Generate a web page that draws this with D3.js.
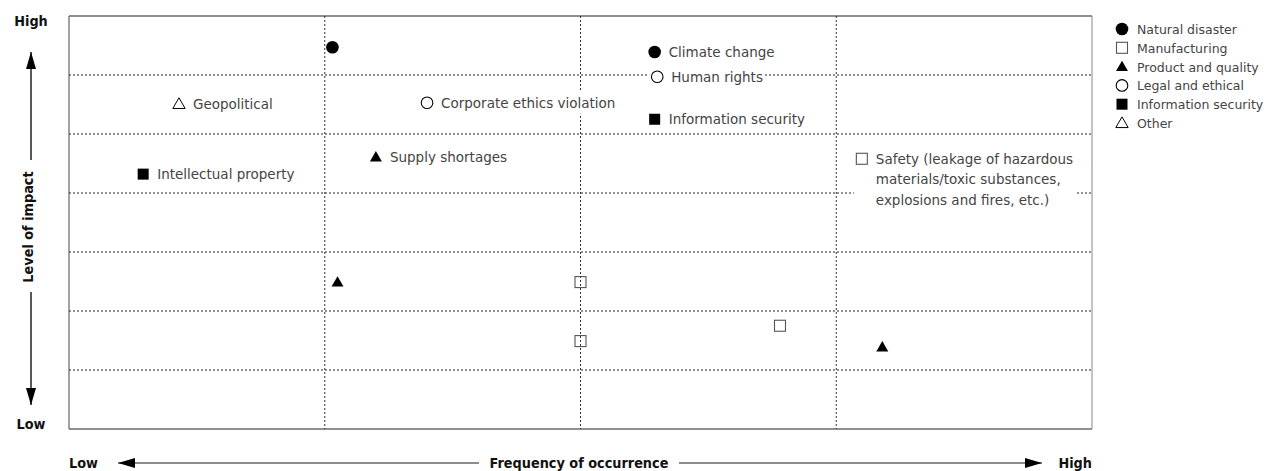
<!DOCTYPE html>
<meta charset="utf-8">
<head>
    <title>Risk map</title>
</head>
<style>
    body { margin: 0; background: #fff; }
    text { font-family: "DejaVu Sans", sans-serif; }
    .lbl { font-size: 13.5px; fill: #444; }
    .leg { font-size: 12.5px; fill: #444; }
    .ax { font-family: "DejaVu Sans Condensed", "DejaVu Sans", sans-serif; font-size: 14.3px; font-weight: bold; fill: #111; }
</style>
<div id="chart"></div>
<script src="https://d3js.org/d3.v7.min.js"></script>
<script>

    // legend categories and their marker kind
    var categories = ["Natural disaster", "Manufacturing", "Product and quality", "Legal and ethical", "Information security", "Other"];
    var shapes = ["circleFilled", "squareOpen", "triangleFilled", "circleOpen", "squareFilled", "triangleOpen"];

    // risks: frequency (0-4 columns), impact (0-7 rows), category index, label
    var riskFreq   = [1.03, 2.29, 2.30, 2.29, 1.40, 0.43, 0.29, 1.20, 3.10, 1.05, 2.00, 2.00, 2.78, 3.18];
    var riskImpact = [6.47, 6.39, 5.97, 5.25, 5.53, 5.51, 4.32, 4.61, 4.58, 2.49, 2.49, 1.49, 1.75, 1.39];
    var riskCat    = [0, 0, 3, 4, 3, 5, 4, 2, 1, 2, 1, 1, 1, 2];
    var riskLabel  = ["", "Climate change", "Human rights", "Information security", "Corporate ethics violation",
                      "Geopolitical", "Intellectual property", "Supply shortages",
                      "Safety (leakage of hazardous|materials/toxic substances,|explosions and fires, etc.)",
                      "", "", "", "", ""];

    var xTicks = [1, 2, 3];
    var yTicks = [1, 2, 3, 4, 5, 6];

    var margin = {top: 16, right: 176, bottom: 42, left: 69},
        width = 1268 - margin.left - margin.right,
        height = 471 - margin.top - margin.bottom;

    var svg = d3.select("#chart")
      .append("svg")
        .attr("width", 1268)
        .attr("height", 471);

    var g = svg.append("g")
        .attr("transform", "translate(" + margin.left + "," + margin.top + ")");

    var x = d3.scaleLinear().domain([0, 4]).range([0, width]);
    var y = d3.scaleLinear().domain([0, 7]).range([height, 0]);

    // grid
    g.selectAll(".vgrid").data(xTicks).enter().append("line")
        .attr("x1", function(d) { return x(d); })
        .attr("x2", function(d) { return x(d); })
        .attr("y1", 0).attr("y2", height)
        .attr("stroke", "#333").attr("stroke-width", 1)
        .attr("stroke-dasharray", "2,2");
    g.selectAll(".hgrid").data(yTicks).enter().append("line")
        .attr("x1", 0).attr("x2", width)
        .attr("y1", function(d) { return y(d); })
        .attr("y2", function(d) { return y(d); })
        .attr("stroke", "#222").attr("stroke-width", 1)
        .attr("stroke-dasharray", "2,2");

    // frame
    g.append("line").attr("x1", 0).attr("x2", width).attr("y1", 0).attr("y2", 0).attr("stroke", "#222").attr("stroke-width", 1.2);
    g.append("line").attr("x1", 0).attr("x2", width).attr("y1", height).attr("y2", height).attr("stroke", "#222").attr("stroke-width", 1.2);
    g.append("line").attr("x1", 0).attr("x2", 0).attr("y1", 0).attr("y2", height).attr("stroke", "#444").attr("stroke-width", 1);
    g.append("line").attr("x1", width).attr("x2", width).attr("y1", 0).attr("y2", height).attr("stroke", "#888").attr("stroke-width", 1);

    function drawMarker(sel, kind, cx, cy) {
        if (kind == "circleFilled" || kind == "circleOpen") {
            sel.append("circle").attr("cx", cx).attr("cy", cy)
                .attr("r", kind == "circleFilled" ? 6.3 : 5.8)
                .attr("fill", kind == "circleFilled" ? "#000" : "none")
                .attr("stroke", "#000").attr("stroke-width", kind == "circleFilled" ? 0 : 1.1);
        } else if (kind == "squareFilled" || kind == "squareOpen") {
            var s = 11;
            sel.append("rect").attr("x", cx - s / 2).attr("y", cy - s / 2)
                .attr("width", s).attr("height", s)
                .attr("fill", kind == "squareFilled" ? "#000" : "none")
                .attr("stroke", kind == "squareFilled" ? "none" : "#555").attr("stroke-width", 1.1);
        } else {
            var t = d3.symbol().type(d3.symbolTriangle).size(kind == "triangleFilled" ? 62 : 66);
            sel.append("path").attr("d", t())
                .attr("transform", "translate(" + cx + "," + (cy + 1) + ")")
                .attr("fill", kind == "triangleFilled" ? "#000" : "none")
                .attr("stroke", "#000").attr("stroke-width", kind == "triangleFilled" ? 0 : 1);
        }
    }

    // labels (with white background where needed)
    riskFreq.forEach(function(f, i) {
        var cx = x(f), cy = y(riskImpact[i]);
        if (riskLabel[i]) {
            var lines = riskLabel[i].split("|");
            var tg = g.append("g");
            var txt = tg.append("text").attr("class", "lbl");
            lines.forEach(function(l, k) {
                txt.append("tspan").attr("x", cx + 14).attr("y", cy + 5 + k * 20.5).text(l);
            });
            var bb = txt.node().getBBox();
            tg.insert("rect", "text")
                .attr("x", cx - 8).attr("y", bb.y - 3)
                .attr("width", bb.x + bb.width - cx + 10).attr("height", bb.height + 6)
                .attr("fill", "#fff");
        }
    });
    riskFreq.forEach(function(f, i) {
        drawMarker(g, shapes[riskCat[i]], x(f), y(riskImpact[i]));
    });

    // legend
    var leg = svg.append("g").attr("transform", "translate(1122,29)");
    categories.forEach(function(c, i) {
        drawMarker(leg, shapes[i], 0, i * 18.8);
        leg.append("text").attr("class", "leg")
            .attr("x", 15).attr("y", i * 18.8 + 5).text(c);
    });

    // arrow head defs
    var defs = svg.append("defs");
    defs.append("marker").attr("id", "arr")
        .attr("viewBox", "0 0 17 10").attr("refX", 17).attr("refY", 5)
        .attr("markerWidth", 17).attr("markerHeight", 10)
        .attr("markerUnits", "userSpaceOnUse")
        .attr("orient", "auto-start-reverse")
        .append("path").attr("d", "M0,0 L17,5 L0,10 z").attr("fill", "#000");

    // y axis annotation
    svg.append("text").attr("class", "ax").attr("x", 31).attr("y", 26).attr("text-anchor", "middle").text("High");
    svg.append("text").attr("class", "ax").attr("x", 31).attr("y", 429).attr("text-anchor", "middle").text("Low");
    svg.append("line").attr("x1", 31).attr("x2", 31).attr("y1", 160).attr("y2", 52)
        .attr("stroke", "#000").attr("stroke-width", 1.3).attr("marker-end", "url(#arr)");
    svg.append("line").attr("x1", 31).attr("x2", 31).attr("y1", 292).attr("y2", 405)
        .attr("stroke", "#000").attr("stroke-width", 1.3).attr("marker-end", "url(#arr)");
    svg.append("text").attr("class", "ax")
        .attr("transform", "translate(33,227) rotate(-90)")
        .attr("text-anchor", "middle").text("Level of impact");

    // x axis annotation
    svg.append("text").attr("class", "ax").attr("x", 69).attr("y", 468).text("Low");
    svg.append("text").attr("class", "ax").attr("x", 1092).attr("y", 468).attr("text-anchor", "end").text("High");
    svg.append("text").attr("class", "ax").attr("x", 579).attr("y", 468).attr("text-anchor", "middle").text("Frequency of occurrence");
    svg.append("line").attr("x1", 479).attr("x2", 118).attr("y1", 463).attr("y2", 463)
        .attr("stroke", "#666").attr("stroke-width", 1.3).attr("marker-end", "url(#arr)");
    svg.append("line").attr("x1", 679).attr("x2", 1042).attr("y1", 463).attr("y2", 463)
        .attr("stroke", "#666").attr("stroke-width", 1.3).attr("marker-end", "url(#arr)");

</script>
